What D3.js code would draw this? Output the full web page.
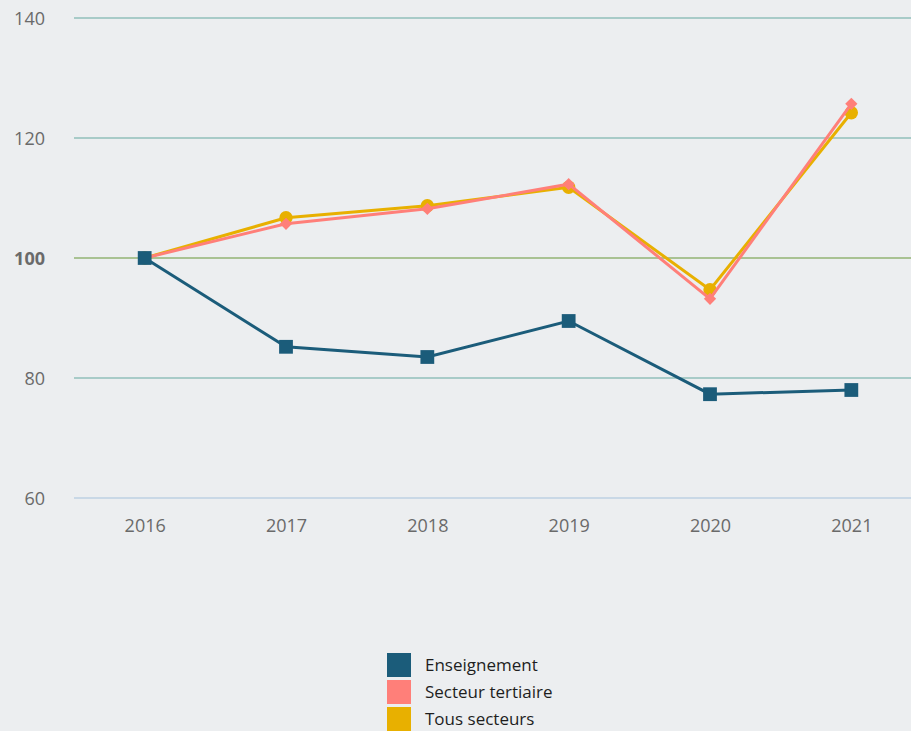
<!DOCTYPE html>
<html>
<head>
<meta charset="utf-8">
<script src="https://cdn.jsdelivr.net/npm/d3@7"></script>
<style>
  body { margin: 0; background: #eceef0; }
  svg { display: block; font-family: "Open Sans", sans-serif; }
</style>
</head>
<body>
<svg id="chart" width="911" height="731"></svg>
<script>
var years = ['2016', '2017', '2018', '2019', '2020', '2021']
var yTicks = [60, 80, 100, 120, 140]
var enseignement = [100, 85.2, 83.5, 89.5, 77.3, 78.0]
var tertiaire = [100, 105.7, 108.2, 112.3, 93.2, 125.7]
var tous = [100, 106.7, 108.7, 111.8, 94.7, 124.2]

var seriesNames = ['Enseignement', 'Secteur tertiaire', 'Tous secteurs']
var seriesColors = ['#1b5c7a', '#ff7f79', '#e8b000']
var seriesValues = [enseignement, tertiaire, tous]

var svg = d3.select('#chart')

var x = d3.scalePoint()
  .domain(years)
  .range([74, 922])
  .padding(0.5)

var y = d3.scaleLinear()
  .domain([60, 140])
  .range([498, 18])

// grid lines
svg.append('g')
  .selectAll('line')
  .data(yTicks).enter().append('line')
    .attr('x1', 74).attr('x2', 911)
    .attr('y1', function(d) { return y(d) })
    .attr('y2', function(d) { return y(d) })
    .attr('stroke', function(d) {
      if (d == 100) return '#a9c293'
      if (d == 60) return '#c9d8e6'
      return '#a8cbc8'
    })
    .attr('stroke-width', 2)

// y labels
svg.append('g')
  .selectAll('text')
  .data(yTicks).enter().append('text')
    .attr('x', 45).attr('y', function(d) { return y(d) + 7 })
    .attr('text-anchor', 'end')
    .attr('font-size', 18)
    .attr('font-weight', function(d) { return d == 100 ? 'bold' : 'normal' })
    .attr('fill', '#6a6a6a')
    .text(function(d) { return d })

// x axis
var xAxis = svg.append('g')
  .attr('transform', 'translate(0,498)')
  .call(d3.axisBottom(x).tickSize(0).tickPadding(21))
xAxis.select('.domain').remove()
xAxis.selectAll('text')
  .attr('font-size', 18)
  .attr('font-family', '"Open Sans", sans-serif')
  .attr('fill', '#6a6a6a')

var line = d3.line()
  .x(function(d, i) { return x(years[i]) })
  .y(function(d) { return y(d) })

// markers: square, rotated square (diamond), circle
var markerSymbol = [
  d3.symbol().type(d3.symbolSquare).size(190),
  d3.symbol().type(d3.symbolSquare).size(75),
  d3.symbol().type(d3.symbolCircle).size(140)
]

// draw yellow first, then pink, then navy on top
var order = [2, 1, 0]
order.forEach(function(s) {
  var g = svg.append('g')
  g.append('path')
    .datum(seriesValues[s])
    .attr('d', line)
    .attr('fill', 'none')
    .attr('stroke', seriesColors[s])
    .attr('stroke-width', 3)
  g.selectAll('path.marker')
    .data(seriesValues[s]).enter().append('path')
      .attr('class', 'marker')
      .attr('d', markerSymbol[s])
      .attr('transform', function(d, i) {
        return 'translate(' + x(years[i]) + ',' + y(d) + ')' + (s == 1 ? ' rotate(45)' : '')
      })
      .attr('fill', seriesColors[s])
})

// legend
var legend = svg.append('g')
  .selectAll('g')
  .data(seriesNames).enter().append('g')
    .attr('transform', function(d, i) { return 'translate(387,' + (653 + i * 27) + ')' })
legend.append('rect')
  .attr('width', 24).attr('height', 24)
  .attr('fill', function(d, i) { return seriesColors[i] })
legend.append('text')
  .attr('x', 38).attr('y', 18)
  .attr('font-size', 17)
  .attr('fill', '#1e1e1e')
  .text(function(d) { return d })
</script>
</body>
</html>
